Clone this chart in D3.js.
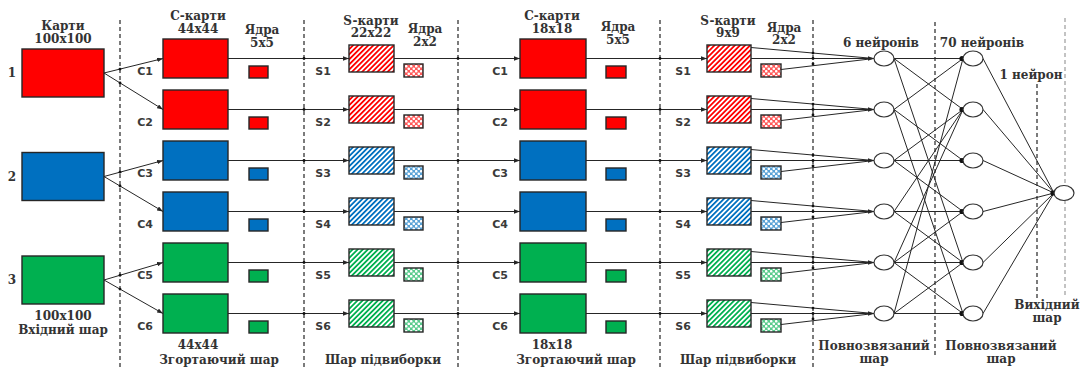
<!DOCTYPE html>
<html><head><meta charset="utf-8">
<script src="https://cdn.jsdelivr.net/npm/d3@7"></script>
<style>
html,body{margin:0;padding:0;background:#fff;}
svg{display:block;}
.hdr{font-family:"DejaVu Serif",serif;font-weight:bold;font-size:12px;fill:#333;}
.lbl{font-family:"DejaVu Sans",sans-serif;font-weight:bold;font-size:11px;fill:#3a3a3a;}
</style></head>
<body><svg id="c" width="1084" height="369"></svg>
<script>
// ---------------- DATA ----------------
const inputLabels = ["1", "2", "3"];
const inputColors = ["#ff0000", "#0070c0", "#00b050"];
const cLabels = ["C1", "C2", "C3", "C4", "C5", "C6"];
const sLabels = ["S1", "S2", "S3", "S4", "S5", "S6"];
const mapInput = [0, 0, 1, 1, 2, 2];           // which input each map comes from
const hidden1 = [0, 1, 2, 3, 4, 5];            // 6 нейронів (drawn)
const hidden2 = [0, 1, 2, 3, 4, 5];            // 70 нейронів (drawn)
const hiddenLinks = [[0,0],[0,1],[0,4],[1,0],[1,2],[1,5],[2,1],[2,2],[2,3],
                     [3,1],[3,3],[3,4],[4,1],[4,3],[4,4],[4,5],[5,0],[5,4],[5,5]];
const topTexts = [
  ["Карти", "in", 0], ["100x100", "in", 1],
  ["С-карти", "c1", 0], ["44x44", "c1", 1], ["Ядра", "k1", 0], ["5x5", "k1", 1],
  ["S-карти", "s1", 0], ["22x22", "s1", 1], ["Ядра", "ks1", 0], ["2x2", "ks1", 1],
  ["С-карти", "c2", 0], ["18x18", "c2", 1], ["Ядра", "k2", 0], ["5x5", "k2", 1],
  ["S-карти", "s2", 0], ["9x9", "s2", 1], ["Ядра", "ks2", 0], ["2x2", "ks2", 1],
  ["6 нейронів", "h1", 0], ["70 нейронів", "h2", 0], ["1 нейрон", "out", 0]
];
const bottomTexts = [
  ["100x100", "in", 0], ["Вхідний шар", "in", 1],
  ["44x44", "c1", 0], ["Згортаючий шар", "c1b", 1],
  ["Шар підвиборки", "s1b", 1],
  ["18x18", "c2", 0], ["Згортаючий шар", "c2b", 1],
  ["Шар підвиборки", "s2b", 1],
  ["Повнозвязаний", "h1b", 0], ["шар", "h1b", 1],
  ["Повнозвязаний", "h2b", 0], ["шар", "h2b", 1],
  ["Вихідний", "outb", 0], ["шар", "outb", 1]
];

// ---------------- LAYOUT ----------------
const W = 1084, H = 369;
const svg = d3.select("#c");
const row = d3.scaleLinear().domain([0, 5]).range([58.5, 313.5]);
const inRow = d3.scaleLinear().domain([0, 2]).range([73, 280]);
const col = {
  in: [22, 104], c1: [163, 228], k1: [249, 268], s1: [349, 394], ks1: [404, 423],
  c2: [520, 586], k2: [606, 626], s2: [707, 751], ks2: [761, 781]
};
const colX = d3.scaleOrdinal()
  .domain(["in","c1","k1","s1","ks1","c2","k2","s2","ks2","h1","h2","out","c1b","s1b","c2b","s2b","h1b","h2b","outb"])
  .range([63, 198, 262, 371, 425, 552, 618, 728, 784, 881, 982, 1031, 219, 383, 576, 738, 874, 1001, 1047]);
const topY = {in: [26, 39], c1: [16, 29], k1: [30, 43], s1: [21, 33], ks1: [29, 42],
  c2: [16, 29], k2: [27, 40], s2: [21, 33], ks2: [28, 40], h1: [43], h2: [43], out: [75]};
const botY = {in: [316, 330], c1: [345], c2: [345], c1b: [0, 360], s1b: [0, 360], c2b: [0, 360],
  s2b: [0, 360], h1b: [346, 359], h2b: [346, 359], outb: [305, 318]};
const dashes = [[120, 20, 369], [304, 20, 369], [458, 20, 369], [660, 20, 369], [813, 20, 369],
  [935, 22, 356], [1037, 84, 298], [1065, 18, 298]];
const hx = {h1: 884, h2: 973, out: 1064, outY: 193, rx: 10, ry: 7.5};
const ink = "#262626";

// ---------------- DEFS ----------------
const defs = svg.append("defs");
defs.append("marker").attr("id", "arr").attr("viewBox", "0 0 8 6").attr("refX", 8).attr("refY", 3)
  .attr("markerWidth", 6).attr("markerHeight", 4.5).attr("markerUnits", "userSpaceOnUse")
  .attr("orient", "auto").append("path").attr("d", "M0,0L8,3L0,6Z").attr("fill", ink);
inputColors.forEach((c, i) => {
  const p = defs.append("pattern").attr("id", "hatch" + i).attr("patternUnits", "userSpaceOnUse")
    .attr("width", 3.6).attr("height", 3.6).attr("patternTransform", "rotate(45)");
  p.append("rect").attr("width", 3.6).attr("height", 3.6).attr("fill", "#fff");
  p.append("line").attr("x1", 0.9).attr("y1", 0).attr("x2", 0.9).attr("y2", 3.6)
    .attr("stroke", c).attr("stroke-width", 1.8);
  const q = defs.append("pattern").attr("id", "check" + i).attr("patternUnits", "userSpaceOnUse")
    .attr("width", 5).attr("height", 5);
  q.append("rect").attr("width", 5).attr("height", 5).attr("fill", c).attr("opacity", 0.65);
  q.append("circle").attr("cx", 1.25).attr("cy", 1.25).attr("r", 1.3).attr("fill", "#fff");
  q.append("circle").attr("cx", 3.75).attr("cy", 3.75).attr("r", 1.3).attr("fill", "#fff");
});

// ---------------- DASHED SEPARATORS ----------------
svg.append("g").selectAll("line").data(dashes).join("line")
  .attr("x1", d => d[0]).attr("x2", d => d[0]).attr("y1", d => d[1]).attr("y2", d => d[2])
  .attr("stroke", (d, i) => i === dashes.length - 1 ? "#aaa" : "#444")
  .attr("stroke-width", 1.4).attr("stroke-dasharray", "4,3");

// ---------------- CONNECTION LINES ----------------
const lines = svg.append("g").attr("stroke", ink).attr("stroke-width", 1).attr("fill", "none");
// input -> C maps
lines.selectAll(".inarr").data(cLabels).join("line").attr("class", "inarr")
  .attr("x1", col.in[1]).attr("y1", (d, i) => inRow(mapInput[i]))
  .attr("x2", col.c1[0]).attr("y2", (d, i) => row(i)).attr("marker-end", "url(#arr)");
// row chains
const segs = [["c1", "s1"], ["s1", "c2"], ["c2", "s2"]];
segs.forEach(([a, b]) => {
  lines.selectAll(".seg" + a).data(cLabels).join("line")
    .attr("x1", col[a][1]).attr("x2", col[b][0])
    .attr("y1", (d, i) => row(i)).attr("y2", (d, i) => row(i)).attr("marker-end", "url(#arr)");
});
// S2 -> hidden1 (three lines converge)
hidden1.forEach(i => {
  const y = row(i), tx = hx.h1 - hx.rx;
  [[col.s2[1], y - 11], [col.s2[1], y], [col.ks2[1], y + 11]].forEach(([x0, y0], k) => {
    lines.append("line").attr("x1", x0).attr("y1", y0).attr("x2", tx).attr("y2", y)
      .attr("marker-end", k === 1 ? "url(#arr)" : null);
  });
});
// hidden1 -> hidden2
lines.selectAll(".hl").data(hiddenLinks).join("line").attr("class", "hl")
  .attr("x1", hx.h1 + hx.rx).attr("y1", d => row(d[0]))
  .attr("x2", hx.h2 - hx.rx).attr("y2", d => row(d[1]));
// hidden2 -> output
lines.selectAll(".ol").data(hidden2).join("line").attr("class", "ol")
  .attr("x1", hx.h2 + hx.rx).attr("y1", d => row(d))
  .attr("x2", hx.out - hx.rx).attr("y2", hx.outY);

// junction dots on separators
const dots = [];
cLabels.forEach((d, i) => {
  [304, 458, 660].forEach(x => dots.push([x, row(i)]));
  [-11, 0, 11].forEach(o => { dots.push([813, row(i) + o * (1 - (813 - 751) / (874 - 751)) ]); });
  const y0 = inRow(mapInput[i]), y1 = row(i);
  dots.push([120, y0 + (y1 - y0) * (120 - col.in[1]) / (col.c1[0] - col.in[1])]);
});
hidden2.forEach(d => dots.push([hx.h2 - hx.rx - 1, row(d)]));
dots.push([hx.out - hx.rx - 1, hx.outY]);
svg.append("g").selectAll("circle").data(dots).join("circle")
  .attr("cx", d => d[0]).attr("cy", d => d[1])
  .attr("r", (d, i) => i >= dots.length - hidden2.length - 1 ? 2.6 : 1.4).attr("fill", "#111");

// ---------------- BOXES ----------------
const boxes = svg.append("g").attr("stroke", ink).attr("stroke-width", 1.4);
boxes.selectAll(".inb").data(inputLabels).join("rect").attr("class", "inb")
  .attr("x", col.in[0]).attr("width", col.in[1] - col.in[0])
  .attr("y", (d, i) => inRow(i) - 24).attr("height", 48).attr("fill", (d, i) => inputColors[i]);
["c1", "c2"].forEach(c => {
  boxes.selectAll(".b" + c).data(cLabels).join("rect")
    .attr("x", col[c][0]).attr("width", col[c][1] - col[c][0])
    .attr("y", (d, i) => row(i) - 19.5).attr("height", 39).attr("fill", (d, i) => inputColors[mapInput[i]]);
});
["k1", "k2"].forEach(c => {
  boxes.selectAll(".b" + c).data(cLabels).join("rect")
    .attr("x", col[c][0]).attr("width", col[c][1] - col[c][0])
    .attr("y", (d, i) => row(i) + 7.5).attr("height", 12).attr("fill", (d, i) => inputColors[mapInput[i]]);
});
["s1", "s2"].forEach(c => {
  boxes.selectAll(".b" + c).data(sLabels).join("rect")
    .attr("x", col[c][0]).attr("width", col[c][1] - col[c][0])
    .attr("y", (d, i) => row(i) - 13.5).attr("height", 27).attr("fill", (d, i) => `url(#hatch${mapInput[i]})`);
});
["ks1", "ks2"].forEach(c => {
  boxes.selectAll(".b" + c).data(sLabels).join("rect")
    .attr("x", col[c][0]).attr("width", col[c][1] - col[c][0])
    .attr("y", (d, i) => row(i) + 5.5).attr("height", 13).attr("fill", (d, i) => `url(#check${mapInput[i]})`);
});

// ---------------- NEURONS ----------------
const neu = svg.append("g").attr("fill", "#fff").attr("stroke", "#333").attr("stroke-width", 1.2);
neu.selectAll(".n1").data(hidden1).join("ellipse").attr("class", "n1")
  .attr("cx", hx.h1).attr("cy", d => row(d)).attr("rx", hx.rx).attr("ry", hx.ry);
neu.selectAll(".n2").data(hidden2).join("ellipse").attr("class", "n2")
  .attr("cx", hx.h2).attr("cy", d => row(d)).attr("rx", hx.rx).attr("ry", hx.ry);
neu.append("ellipse").attr("cx", hx.out).attr("cy", hx.outY).attr("rx", hx.rx).attr("ry", hx.ry);

// ---------------- LABELS ----------------
const lab = svg.append("g");
lab.selectAll(".il").data(inputLabels).join("text").attr("class", "hdr")
  .attr("x", 12).attr("y", (d, i) => inRow(i)).attr("dy", "0.35em").attr("text-anchor", "middle").text(d => d);
[[cLabels, 145], [sLabels, 323], [cLabels, 500], [sLabels, 683]].forEach(([arr, x]) => {
  lab.selectAll(null).data(arr).join("text").attr("class", "lbl")
    .attr("x", x).attr("y", (d, i) => row(i) + 13).attr("dy", "0.35em").attr("text-anchor", "middle").text(d => d);
});
lab.selectAll(".tt").data(topTexts).join("text").attr("class", "hdr")
  .attr("x", d => colX(d[1])).attr("y", d => topY[d[1]][d[2]]).attr("dy", "0.35em")
  .attr("text-anchor", "middle").text(d => d[0]);
lab.selectAll(".bt").data(bottomTexts).join("text").attr("class", "hdr")
  .attr("x", d => colX(d[1])).attr("y", d => botY[d[1]][d[2]]).attr("dy", "0.35em")
  .attr("text-anchor", "middle").text(d => d[0]);
</script></body></html>
